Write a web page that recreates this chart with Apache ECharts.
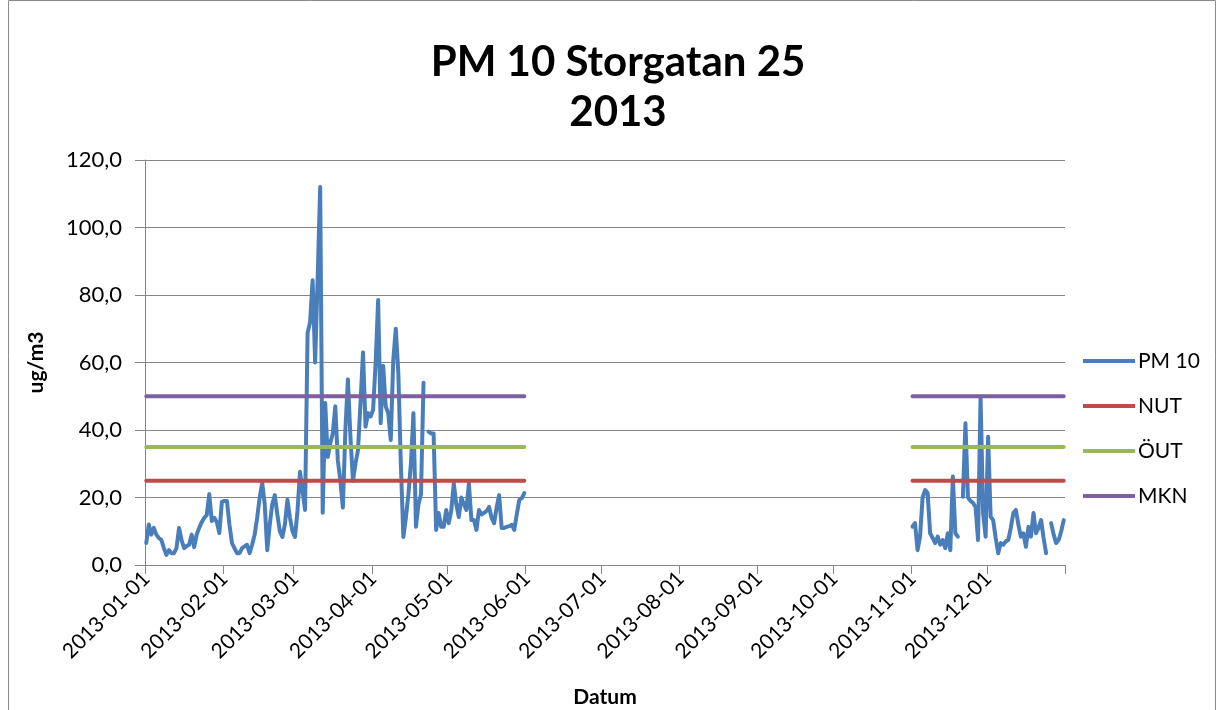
<!DOCTYPE html>
<html>
<head>
<meta charset="utf-8">
<script src="https://cdn.jsdelivr.net/npm/echarts@6/dist/echarts.min.js"></script>
<style>
html,body{margin:0;padding:0;background:#fff;overflow:hidden;}
#chart{width:1223px;height:710px;}
</style>
</head>
<body>
<div id="chart"></div>
<script>
// PM 10 daily values, 2013-01-01 .. 2013-05-31 (null = missing day)
var pm10Spring = [
  6.5, 12, 9, 11, 9, 8, 7.4, 5, 3, 4.4,
  3.5, 3.5, 5, 11, 7.4, 5, 5.6, 6, 9, 5.3,
  9, 11, 12.7, 14, 14.8, 21, 13, 14, 12.7, 9.5,
  18.7, 19, 19, 12, 6.5, 5, 3.5, 3.5, 5, 5.5,
  6, 3.5, 6, 9, 14, 20, 24.3, 18, 4.4, 12,
  18, 20.7, 15, 10, 8.3, 12, 19.3, 14, 10, 8.3,
  16, 27.6, 22, 16.3, 68.7, 72, 84.4, 60, 85, 112,
  15.5, 48, 32, 36, 39, 47, 31, 25, 17, 40,
  55, 38, 25, 30, 34, 48, 63, 41, 45, 44,
  46, 60, 78.5, 42, 59, 47, 45, 37, 60.7, 70,
  57, 30, 8.3, 14, 21, 30, 45, 11.3, 18, 21,
  54, null, 39.5, 39, 39, 10.4, 15.4, 11.3, 11.3, 16.3,
  12.4, 16, 24.2, 18, 14.2, 20, 18, 16.3, 24.2, 13.3,
  13.3, 10.4, 16.3, 15, 15.4, 16, 17.2, 14, 12.4, 17,
  20.7, 11, 11, 11.3, 11.5, 11.9, 10.4, 15, 19.3, 19.8,
  21.3
];
// PM 10 daily values, 2013-11-01 .. 2013-12-31
var pm10Autumn = [
  11.4, 12.4, 4.4, 8.4, 20, 22.2, 21.3, 9.4, 8, 6.5,
  8.4, 6, 7.4, 5, 9.4, 4.4, 26.2, 9.4, 8.4, null,
  20.2, 42, 20, 19, 18.4, 17.2, 7.4, 49.9, 15.4, 8.4,
  38, 14.3, 13.3, 8, 3.5, 6.5, 6, 7, 7.4, 11,
  15.4, 16.3, 12, 8.4, 9.4, 5.4, 11.3, 8.4, 15.4, 9.4,
  11, 13.3, 8, 3.5, null, 12.4, 9, 6.5, 7.4, 10,
  13.3
];
var springStart = '2013-01-01';
var autumnStart = '2013-11-01';
var limitNUT = 25;
var limitOUT = 35;
var limitMKN = 50;
var seriesNames = ['PM 10', 'NUT', 'ÖUT', 'MKN'];
var yTicks = [0, 20, 40, 60, 80, 100, 120];
var titleText = 'PM 10 Storgatan 25\n2013';

// build category dates for the whole year
var dates = [];
var t0 = Date.UTC(2013, 0, 1);
for (var i = 0; i < 365; i++) {
  var d = new Date(t0 + i * 86400000);
  var mm = ('0' + (d.getUTCMonth() + 1)).slice(-2);
  var dd = ('0' + d.getUTCDate()).slice(-2);
  dates.push(d.getUTCFullYear() + '-' + mm + '-' + dd);
}
var iSpring = dates.indexOf(springStart);
var iAutumn = dates.indexOf(autumnStart);

function fullSeries(spring, autumn) {
  var out = dates.map(function () { return null; });
  spring.forEach(function (v, k) { out[iSpring + k] = v; });
  autumn.forEach(function (v, k) { out[iAutumn + k] = v; });
  return out;
}
function limitSeries(v) {
  return fullSeries(pm10Spring.map(function () { return v; }),
                    pm10Autumn.map(function () { return v; }));
}
var pm10 = fullSeries(pm10Spring, pm10Autumn);

var FONT = 'Lato';
var chart = echarts.init(document.getElementById('chart'), null, {renderer: 'canvas'});
function mkLine(name, data, color) {
  return {
    name: name, type: 'line', data: data, showSymbol: false, symbol: 'none',
    connectNulls: false, animation: false,
    lineStyle: {color: color, width: 4, cap: 'round', join: 'round'},
    itemStyle: {color: color}
  };
}
chart.setOption({
  animation: false,
  backgroundColor: '#ffffff',
  textStyle: {fontFamily: FONT},
  graphic: [{
    type: 'rect', silent: true, z: -1,
    shape: {x: 8.5, y: 0.5, width: 1207, height: 730},
    style: {fill: 'none', stroke: '#8a8a8a', lineWidth: 1}
  }, {
    type: 'text', silent: true, x: 618, y: 37,
    style: {
      text: titleText, fill: '#000', align: 'center', verticalAlign: 'top',
      fontFamily: FONT, fontWeight: 'bold', fontSize: 42, lineHeight: 50
    }
  }],
  legend: {
    orient: 'vertical', left: 1078, top: 345,
    itemWidth: 52, itemHeight: 4, itemGap: 23, icon: 'rect',
    data: seriesNames,
    textStyle: {fontFamily: FONT, fontSize: 21, color: '#000', lineHeight: 22, padding: [0, 0, 0, -2]}
  },
  grid: {left: 145, right: 158, top: 160, bottom: 145, containLabel: false, outerBoundsMode: 'none'},
  xAxis: {
    type: 'category', data: dates, boundaryGap: true,
    name: 'Datum', nameLocation: 'middle', nameGap: 122,
    nameTextStyle: {fontFamily: FONT, fontWeight: 'bold', fontSize: 21, color: '#000'},
    axisLine: {show: true, lineStyle: {color: '#868686', width: 1}},
    axisTick: {show: true, length: 9, lineStyle: {color: '#868686'},
      interval: function (idx, val) { return /-01$/.test(val); }},
    axisLabel: {
      rotate: 45, fontSize: 21, color: '#000', fontFamily: FONT, margin: 10,
      interval: function (idx, val) { return /-01$/.test(val); }
    },
    splitLine: {show: false}
  },
  yAxis: {
    type: 'value', min: yTicks[0], max: yTicks[yTicks.length - 1], interval: 20,
    name: 'ug/m3', nameLocation: 'middle', nameRotate: 90, nameGap: 98,
    nameTextStyle: {fontFamily: FONT, fontWeight: 'bold', fontSize: 21, color: '#000'},
    axisLine: {show: true, lineStyle: {color: '#868686', width: 1}},
    axisTick: {show: true, length: 10, lineStyle: {color: '#868686'}},
    axisLabel: {
      fontSize: 22, color: '#000', fontFamily: FONT, margin: 23,
      formatter: function (v) { return v.toFixed(1).replace('.', ','); }
    },
    splitLine: {show: true, lineStyle: {color: '#868686', width: 1}}
  },
  series: [
    mkLine(seriesNames[0], pm10, '#4A7EBB'),
    mkLine(seriesNames[1], limitSeries(limitNUT), '#BE4B48'),
    mkLine(seriesNames[2], limitSeries(limitOUT), '#98B954'),
    mkLine(seriesNames[3], limitSeries(limitMKN), '#7D60A0')
  ]
});
</script>
</body>
</html>
